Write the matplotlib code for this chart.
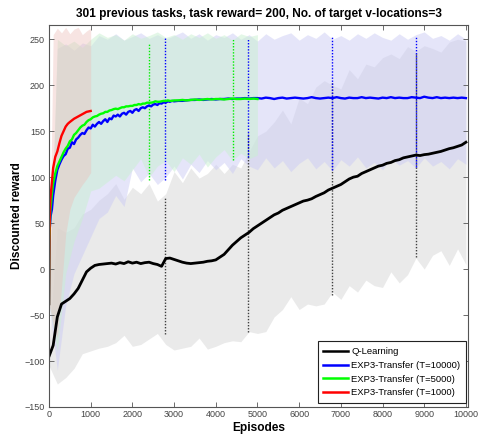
import matplotlib
matplotlib.use("Agg")
import matplotlib.pyplot as plt

plt.rcParams['font.family'] = ['Liberation Sans', 'DejaVu Sans']

# ---------------- data ----------------
ep_q = list(range(0, 10001, 100))
q_mean = [-95, -83, -52, -38, -35, -32, -27, -21, -12, -3,
          1, 4, 5, 5.5, 6, 6.5, 5.5, 7, 6, 8,
          6.5, 7.5, 6, 7, 7.5, 6, 5, 3, 11.5, 12,
          10.5, 9, 7.5, 6.5, 6, 6.5, 7, 7.5, 8.5, 9,
          10, 13, 16, 21, 26, 30, 34, 37, 40, 44,
          47, 50, 53, 56, 59, 61, 64, 66, 68, 70,
          72, 74, 75, 76.5, 79, 81, 83, 86, 88, 90,
          92, 95, 98, 100, 101, 104, 106, 108, 110, 112,
          113, 115, 116, 118, 119, 121, 122, 123, 124, 123.5,
          124.5, 125, 126, 127, 128, 129.5, 131, 132, 133.5, 135,
          138]

ep_b = ([0, 10, 20, 40, 70, 100, 150, 200, 250]
        + list(range(300, 3001, 50)) + list(range(3100, 10001, 100)))
b_mean = [-38, 15, 45, 58, 65, 80, 96, 108, 114,
          # 300 .. 3000 every 50
          119, 123, 125, 131, 132, 138, 136, 141, 143, 146,
          148, 147, 151, 154, 153, 157, 155, 158, 160, 158,
          161, 163, 160, 164, 163, 167, 166, 168, 166, 169,
          170, 168, 171, 172, 170, 173, 174, 172, 175, 176,
          175, 177, 178, 177, 179, 179.5, 178.5, 180.5, 180, 181.5,
          181, 182.5, 182, 183, 182.5,
          # 3100 .. 10000 every 100
          183, 183, 183.5, 184, 184, 184.5, 184, 184.5, 185, 184.5,
          185, 185, 185.5, 185, 185.5, 185.5, 186, 185.5, 186, 186,
          185.5, 186.5, 186, 185, 186, 186.5, 185.5, 186, 186.5, 186,
          185.5, 186, 187, 186, 185.5, 186, 186.5, 186, 187, 186,
          185.5, 186.5, 186, 186, 187, 186, 186.5, 186, 185.5, 186.5,
          186, 187, 186, 186.5, 186, 186, 187, 186.5, 186, 187.5,
          186.5, 186, 187, 186, 186.5, 186, 186.5, 186, 186.5, 186]

ep_g = ([0, 10, 30, 70, 100, 150, 200, 250]
        + list(range(300, 3001, 50)) + list(range(3100, 5001, 100)))
g_mean = [-38, 30, 62, 82, 93, 104, 112, 117,
          # 300 .. 3000 every 50
          122, 127, 131, 134, 139, 141, 146, 148, 151, 154,
          156, 157, 160, 162, 163, 165, 166, 166.5, 168, 169,
          169.5, 171, 171, 172.5, 173, 174, 174.5, 174, 175, 176,
          176, 177, 177, 177.5, 177.5, 178.5, 178.5, 179.5, 179, 180,
          180, 181, 181, 181, 181.5, 182.5, 182, 182, 182.5, 183,
          182.8, 183.5, 183, 183, 183.5,
          # 3100 .. 5000 every 100
          183.5, 184, 183.5, 184, 184.5, 184, 184.5, 185, 184.5, 185,
          185, 184.5, 185, 185.5, 185, 185, 185.5, 185, 185.5, 185]

ep_r = [0, 10, 30, 60, 100, 150, 200, 250, 300, 350, 400, 450, 500,
        600, 700, 800, 900, 1000]
r_mean = [-38, 40, 75, 90, 110, 122, 128, 137, 145, 150, 155, 158, 160,
          163.5, 166, 168.5, 171, 172]

# shaded spread bands
ep_band = list(range(0, 10001, 200))
q_low = [-105, -125, -118, -108, -92, -89, -86, -84, -80, -72,
         -84, -82, -76, -70, -82, -88, -86, -84, -75, -87,
         -84, -80, -78, -79, -68, -70, -68, -52, -44, -30,
         -44, -38, -40, -38, -25, -33, -18, -25, -12, -18,
         -20, -3, -15, -6, 12, 0, 15, 20, 4, 22, 5]
q_up = [-85, 45, 40, 45, 60, 65, 75, 82, 93, 76,
        89, 82, 93, 74, 82, 106, 94, 110, 99, 104,
        114, 104, 114, 110, 128, 145, 150, 160, 173, 158,
        186, 180, 198, 205, 200, 196, 217, 207, 223, 220,
        230, 234, 229, 242, 237, 243, 240, 236, 247, 250, 248]
b_up = [-38, 240, 245, 238, 246, 243, 254, 250, 256, 249,
        253, 257, 251, 255, 250, 254, 258, 251, 256, 249,
        255, 252, 257, 250, 255, 248, 256, 250, 254, 257,
        249, 255, 251, 258, 250, 254, 249, 256, 251, 257,
        252, 249, 256, 250, 255, 258, 251, 254, 249, 256, 250]
b_low = [-38, -110, -40, -5, 15, 35, 55, 62, 80, 68,
         110, 95, 104, 92, 100, 112, 98, 114, 105, 118,
         108, 116, 104, 120, 112, 108, 121, 110, 118, 106,
         115, 121, 109, 117, 107, 119, 112, 122, 110, 116,
         108, 120, 113, 118, 110, 121, 112, 117, 109, 120, 114]
ep_gband = list(range(0, 5001, 200))
g_up = [-38, 250, 243, 248, 241, 250, 257, 252, 255, 249,
        256, 251, 254, 258, 252, 255, 250, 256, 252, 257,
        251, 255, 249, 256, 253, 255]
g_low = [-38, -90, -5, 30, 55, 85, 88, 95, 102, 96,
         108, 120, 100, 112, 118, 106, 121, 114, 125, 111,
         122, 130, 118, 126, 120, 124]
ep_rband = list(range(0, 1001, 100))
r_up = [-38, 255, 262, 257, 263, 256, 261, 263, 255, 259, 262]
r_low = [-38, -60, -75, -20, 38, 65, 78, 85, 92, 98, 105]

# dotted spread markers at selected episodes
q_bar_ep = [2780, 4780, 6790, 8810]
q_bar_low = [-71, -68, -28, 13]
q_bar_up = [77, 148, 204, 235]
b_bar_ep = [2780, 4780, 6790, 8810]
b_bar_low = [97, 122, 108, 111]
b_bar_up = [252, 250, 254, 254]
g_bar_ep = [2400, 4410]
g_bar_low = [97, 119]
g_bar_up = [246, 250]

labels = ['Q-Learning', 'EXP3-Transfer (T=10000)',
          'EXP3-Transfer (T=5000)', 'EXP3-Transfer (T=1000)']
x_ticks = list(range(0, 10001, 1000))
y_ticks = list(range(-150, 251, 50))

# ---------------- plot ----------------
fig = plt.figure(figsize=(4.79, 4.41), dpi=100)
ax = fig.add_axes([49 / 479, 1 - 407 / 441, 419 / 479, 382 / 441])

ax.fill_between(ep_band, q_low, q_up, color=(0.84, 0.84, 0.84), alpha=0.5, lw=0)
ax.fill_between(ep_band, b_low, b_up, color=(0.80, 0.80, 0.96), alpha=0.5, lw=0)
ax.fill_between(ep_gband, g_low, g_up, color=(0.79, 0.94, 0.82), alpha=0.5, lw=0)
ax.fill_between(ep_rband, r_low, r_up, color=(0.93, 0.74, 0.72), alpha=0.4, lw=0)

dot = (0, (1, 1.2))
ax.vlines(q_bar_ep, q_bar_low, q_bar_up, colors='#404040', linestyles=dot, lw=1.0)
ax.vlines(b_bar_ep, b_bar_low, b_bar_up, colors='#0000ff', linestyles=dot, lw=1.0)
ax.vlines(g_bar_ep, g_bar_low, g_bar_up, colors='#00ee00', linestyles=dot, lw=1.0)

ax.plot(ep_q, q_mean, color='black', lw=2.0, label=labels[0])
ax.plot(ep_b, b_mean, color='#0000ff', lw=1.7, label=labels[1])
ax.plot(ep_g, g_mean, color='#00ff00', lw=1.7, label=labels[2])
ax.plot(ep_r, r_mean, color='#ff0000', lw=1.7, label=labels[3])

ax.set_xlim(0, 10050)
ax.set_ylim(-150, 265.5)
ax.set_xticks(x_ticks)
ax.set_yticks(y_ticks)
ax.tick_params(direction='in', length=3.5, width=0.6, top=True, right=True,
               labelsize=6.5, colors='#555555', labelcolor='#444444')
ax.tick_params(axis='x', pad=2.5)
ax.tick_params(axis='y', pad=3)
for s in ax.spines.values():
    s.set_color('#555555')
    s.set_linewidth(0.8)

ax.set_title('301 previous tasks, task reward= 200, No. of target v-locations=3',
             fontsize=8.6, fontweight='bold', pad=6)
ax.set_xlabel('Episodes', fontsize=8.6, fontweight='bold', labelpad=2)
ax.set_ylabel('Discounted reward', fontsize=8.6, fontweight='bold', labelpad=1)

leg = ax.legend(loc='lower right', bbox_to_anchor=(0.995, 0.0105), fontsize=6.8,
                frameon=True, fancybox=False, edgecolor='#222222', framealpha=1,
                handlelength=2.6, handletextpad=0.35, borderpad=0.6,
                labelspacing=0.5, borderaxespad=0)
leg.get_frame().set_linewidth(0.8)
for line in leg.get_lines():
    line.set_linewidth(1.8)

fig.savefig('out.png', dpi=100)
